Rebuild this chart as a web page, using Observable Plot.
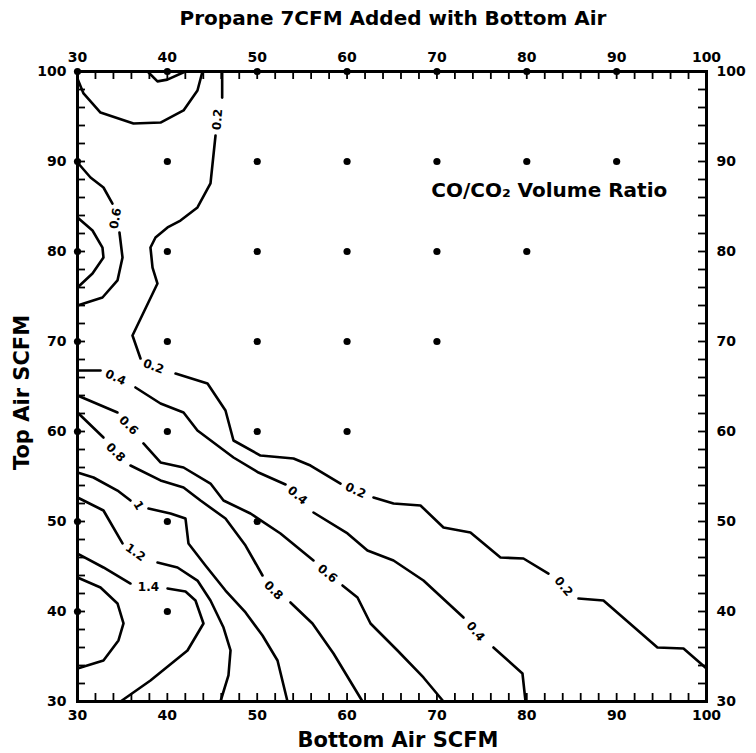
<!DOCTYPE html>
<html><head><meta charset="utf-8">
<script src="https://cdn.jsdelivr.net/npm/d3@7"></script>
<script src="https://cdn.jsdelivr.net/npm/@observablehq/plot@0.6"></script>
<style>
body{margin:0;background:#fff;}
#chart svg{display:block;}
</style></head><body>
<div id="chart"></div>
<script>
// ---- contour polylines (data units: x = Bottom Air SCFM, y = Top Air SCFM); broken where labels sit
const c02a = [[46.1,100],[46.1,97.1]];
const c02b = [[45.36,92.89],[44.80,87.56],[43.35,84.89],[41.46,83.44],[40.02,82.67],[38.68,81.56],[38.12,80.44],[38.35,78.22],[38.90,76.44],[36.12,70.67],[37.01,68.11]];
const c02c = [[40.91,66.44],[44.47,65.33],[46.47,62.33],[47.36,59.0],[50.37,57.33],[54.04,57.0],[55.93,56.22],[59.27,54.22]];
const c02d = [[62.94,52.67],[65.17,52.0],[68.17,51.78],[70.73,49.33],[73.73,48.78],[77.07,46.0],[79.63,45.89],[82.41,44.22]];
const c02e = [[85.75,41.44],[88.53,41.22],[94.54,36.0],[97.44,35.89],[100,33.67]];
const cTopLeft = [[30,99.2],[30.67,97.56],[32.56,95.44],[36.23,94.22],[39.24,94.33],[41.80,95.67],[43.35,97.89],[43.91,100]];
const cWedge = [[37.8,100],[38.9,98.9],[40.0,99.1],[42.0,100]];
const c06ua = [[30,89.89],[31.45,88.22],[32.89,87.11],[33.89,85.33]];
const c06ub = [[34.67,82.11],[35.01,79.33],[34.45,76.78],[32.78,74.89],[30,74.0]];
const c08u = [[30,83.78],[31.67,82.33],[32.78,80.44],[32.89,79.33],[31.67,77.56],[30,76.0]];
const c04a = [[30,66.78],[32.56,66.78]];
const c04b = [[36.45,64.89],[39.24,63.11],[41.80,62.11],[43.35,60.11],[47.36,57.11],[50.14,55.44],[53.15,54.11]];
const c04c = [[56.26,51.0],[60.05,48.67],[62.27,46.78],[65.17,45.67],[68.50,43.44],[72.96,39.33]];
const c04d = [[76.29,36.0],[79.52,33.11],[79.86,30]];
const c06a = [[30,64.0],[34.45,62.11]];
const c06b = [[37.34,58.67],[39.24,56.56],[41.80,56.0],[44.80,54.22],[46.25,52.33],[49.25,50.89],[52.59,48.67],[56.26,45.67]];
const c06c = [[59.49,42.89],[61.16,41.56],[62.61,38.67],[65.61,35.67],[68.50,32.67],[70.73,30]];
const c08a = [[30,62.11],[32.89,59.33]];
const c08b = [[35.90,56.22],[39.24,54.56],[41.80,53.78],[43.69,52.33],[46.47,50.33],[48.70,47.33],[50.59,44.0]];
const c08c = [[53.70,41.0],[56.15,38.67],[58.49,35.33],[61.72,30]];
const c10a = [[30,55.44],[31.78,54.89],[34.45,53.44],[35.90,52.33]];
const c10b = [[37.90,51.44],[40.35,50.89],[42.02,50.33],[42.35,47.56],[44.24,45.11],[46.47,42.33],[48.70,39.89],[50.59,37.33],[52.26,34.56],[53.37,30]];
const c12a = [[30,52.67],[32.89,51.22],[35.01,47.56]];
const c12b = [[38.90,45.44],[41.13,44.89],[43.35,43.44],[44.80,41.22],[46.25,38.22],[47.03,35.67],[46.80,32.89],[45.91,30]];
const c14a = [[30,46.44],[32.89,44.89],[35.90,43.11]];
const c14b = [[40.02,42.56],[42.02,42.22],[43.13,41.22],[44.02,38.67],[42.24,35.67],[38.12,32.33],[34.79,30]];
const c16 = [[30,43.78],[32.56,42.67],[34.45,40.89],[35.12,38.67],[34.56,36.78],[32.89,34.56],[30,33.67]];

// ---- contour labels
const labelText = ["0.2","0.6","0.2","0.4","0.6","0.8","1","1.2","1.4","0.4","0.2","0.8","0.6","0.4","0.2"];
const labelX = [45.58,34.23,38.46,34.23,35.68,34.23,36.79,36.45,37.90,54.48,60.94,51.81,57.82,74.29,84.08];
const labelY = [94.67,83.67,67.22,66.0,60.67,57.67,51.78,46.56,42.67,52.89,53.44,42.33,44.22,37.78,42.78];
const labelAngle = [-85,-80,20,25,45,45,60,35,0,40,25,45,40,50,50];

// ---- measured points
const dotX = [40,50,60,70,80,90, 40,50,60,70,80, 40,50,60,70, 40,50,60, 40,50, 40, 30,30,30,30,30,30,30, 40,50,60,70,80,90];
const dotY = [90,90,90,90,90,90, 80,80,80,80,80, 70,70,70,70, 60,60,60, 50,50, 40, 40,50,60,70,80,90,100, 100,100,100,100,100,100];

// ---- ticks and texts
const majorTicks = [30,40,50,60,70,80,90,100];
const minorTicks = d3.range(30, 101, 2);
const chartTitle = "Propane 7CFM Added with Bottom Air";
const xTitle = "Bottom Air SCFM";
const yTitle = "Top Air SCFM";
const note = "CO/CO₂ Volume Ratio";
const noteX = 82.5, noteY = 86.8;

const segments = [c02a,c02b,c02c,c02d,c02e,cTopLeft,cWedge,c06ua,c06ub,c08u,c04a,c04b,c04c,c04d,c06a,c06b,c06c,c08a,c08b,c08c,c10a,c10b,c12a,c12b,c14a,c14b,c16];
const rows = segments.flatMap((pts, i) => pts.map(([x, y]) => ({x, y, seg: i})));
const labels = labelText.map((t, i) => ({t, x: labelX[i], y: labelY[i], a: labelAngle[i]}));
const dots = dotX.map((x, i) => ({x, y: dotY[i]}));

const W = 756, H = 753, mt = 71, mb = 52, ml = 77, mr = 50;
const fw = W - ml - mr, fh = H - mt - mb, tl = 8;
const mid = {textAnchor: "middle", lineAnchor: "middle"};

const plot = Plot.plot({
  width: W, height: H, marginTop: mt, marginBottom: mb, marginLeft: ml, marginRight: mr,
  x: {domain: [30, 100]},
  y: {domain: [30, 100]},
  style: {fontFamily: "DejaVu Sans", fontWeight: "bold", fontSize: "14px", background: "white", color: "black", overflow: "visible"},
  marks: [
    Plot.line(rows, {x: "x", y: "y", z: "seg", stroke: "black", strokeWidth: 2.6, strokeLinejoin: "round"}),
    Plot.text(labels, {x: "x", y: "y", text: "t", rotate: "a", fontSize: 12, fill: "black"}),
    Plot.dot(dots, {x: "x", y: "y", r: 3.6, fill: "black"}),
    Plot.ruleX(minorTicks, {x: d => d, insetTop: fh - tl, strokeWidth: 1.8}),
    Plot.ruleX(minorTicks, {x: d => d, insetBottom: fh - tl, strokeWidth: 1.8}),
    Plot.ruleY(minorTicks, {y: d => d, insetRight: fw - tl, strokeWidth: 1.8}),
    Plot.ruleY(minorTicks, {y: d => d, insetLeft: fw - tl, strokeWidth: 1.8}),
    Plot.frame({stroke: "black", strokeWidth: 3}),
    Plot.axisX({anchor: "bottom", ticks: majorTicks, tickSize: 0, tickPadding: 9, label: null}),
    Plot.axisX({anchor: "top", ticks: majorTicks, tickSize: 0, tickPadding: 10, label: null}),
    Plot.axisY({anchor: "left", ticks: majorTicks, tickSize: 0, tickPadding: 11, label: null}),
    Plot.axisY({anchor: "right", ticks: majorTicks, tickSize: 0, tickPadding: 10, label: null}),
    Plot.text([chartTitle], {frameAnchor: "top", dy: -53, dx: 1, fontSize: 20, ...mid}),
    Plot.text([xTitle], {frameAnchor: "bottom", dy: 39, dx: 6, fontSize: 21, ...mid}),
    Plot.text([yTitle], {frameAnchor: "left", dx: -55, dy: 6, rotate: -90, fontSize: 21, ...mid}),
    Plot.text([note], {x: () => noteX, y: () => noteY, fontSize: 20})
  ]
});
document.getElementById("chart").appendChild(plot);
</script>
</body></html>
